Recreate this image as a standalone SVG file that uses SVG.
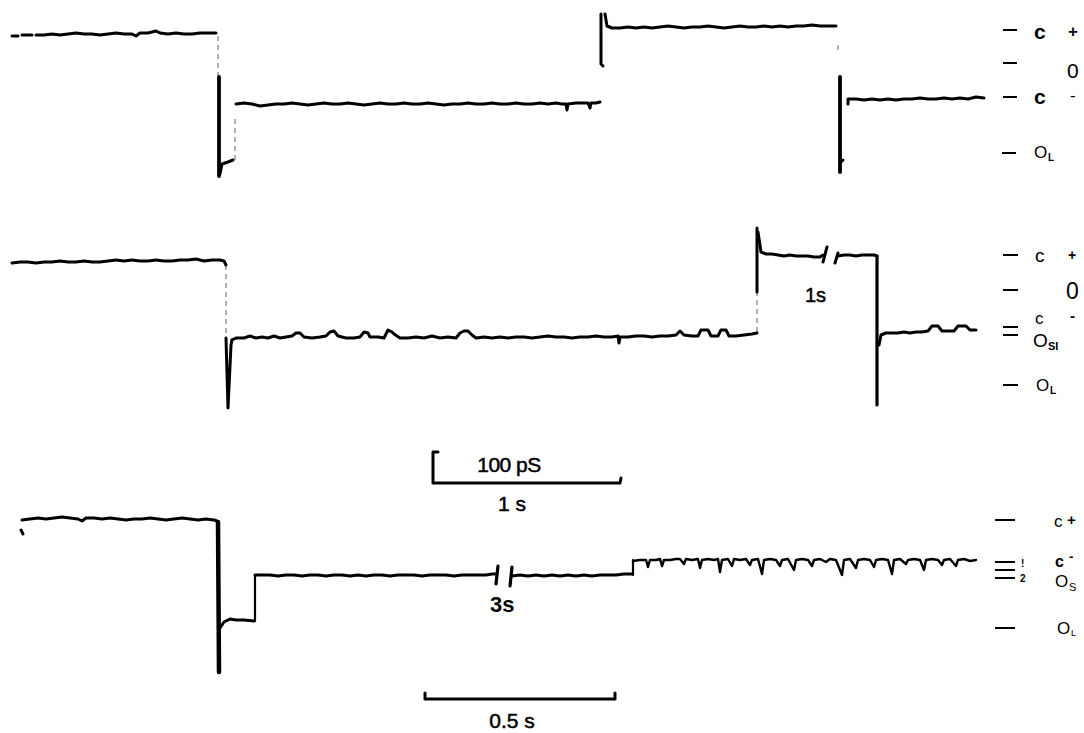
<svg xmlns="http://www.w3.org/2000/svg" width="1084" height="733" viewBox="0 0 1084 733">
<style>
.tr{fill:none;stroke:#000;stroke-width:3;stroke-linejoin:round;stroke-linecap:round}
.tk{fill:none;stroke:#000;stroke-width:3.8;stroke-linecap:round}
.fa{fill:none;stroke:#000;stroke-width:1;stroke-dasharray:5 4;stroke-opacity:0.6}
.dash{stroke:#000;stroke-width:2.2}
text{font-family:"Liberation Sans","DejaVu Sans",sans-serif;fill:#000}
.b{font-weight:bold}
.m{stroke:#000;stroke-width:0.5}
</style>
<rect width="1084" height="733" fill="#fff"/>

<g id="trace1">
<path class="tr" d="M12,36 L18,36 M22,35 L32,35 M36,35 L44,35 52,34 60,35 68,34 76,33 84,34 92,34 100,35 108,34 116,33 124,34 132,34 136,36 140,33 148,33 156,31 160,33 168,34 176,33 184,34 192,34 200,33 208,33 216,33"/>
<path class="fa" d="M218,36 L218,76"/>
<path class="tk" d="M219,77 L219,176"/>
<path class="tr" d="M220,174 L222,164 228,162 233,160"/>
<path class="fa" d="M235,160 L235,118"/>
<path class="tr" d="M236,104 L244,103 252,104 260,106 268,105 276,104 284,104 292,103 300,104 308,105 316,104 324,103 332,104 340,104 348,103 356,104 364,105 372,104 380,103 388,104 396,104 404,103 412,104 420,104 428,103 436,104 444,105 452,104 460,104 468,103 476,104 484,104 492,103 500,104 508,104 516,103 524,104 532,104 540,103 548,104 556,103 562,104 566,104 567,110 568,104 576,103 584,103 588,103 590,108 591,103 596,103 600,102"/>
<path class="tr" d="M603,66 L601,64 601,14"/>
<path class="tr" d="M605,14 L607,26 612,28 620,28 628,27 636,28 644,27 652,28 660,27 668,26 676,27 684,28 692,27 700,27 708,26 716,27 724,28 732,27 740,26 748,27 756,27 764,26 772,27 780,26 788,27 796,26 804,26 812,25 820,26 828,26 836,26"/>
<path class="fa" d="M838,45 L838,51"/>
<path class="tk" d="M840,77 L840,172"/>
<path class="tr" d="M840,163 L843,160"/>
<path class="tr" d="M848,104 L848,99 856,99 864,100 872,99 880,100 888,99 896,100 904,99 912,99 920,98 928,99 936,99 944,98 952,99 960,98 968,99 976,97 984,98"/>
</g>

<g id="trace2">
<path class="tr" d="M12,263 L20,262 28,262 36,263 44,262 52,262 60,261 68,262 76,262 84,261 92,262 100,262 108,261 116,260 124,261 132,260 140,261 148,261 156,260 164,261 172,261 180,260 188,260 196,259 204,261 212,260 220,260 224,261 226,265"/>
<path class="fa" d="M226,265 L226,336"/>
<path class="tr" d="M226,338 L228,408 231,345 232,340"/>
<path class="tr" d="M232,340 L236,338 244,338 250,336 256,338 262,337 268,338 274,336 280,338 286,337 292,336 296,333 300,333 304,337 312,338 320,337 326,336 330,332 334,331 338,336 346,338 354,338 360,337 364,332 368,333 370,337 378,337 384,338 388,330 392,332 394,334 400,338 408,338 416,337 424,338 432,336 440,338 448,337 456,338 460,333 464,331 468,331 472,335 476,338 484,337 492,338 500,337 508,338 516,337 524,337 532,338 540,337 548,336 556,337 564,337 572,338 580,337 588,337 596,336 604,337 612,337 618,336 619,343 620,337 628,337 636,336 644,336 652,337 660,336 668,336 676,335 680,331 684,335 692,336 698,336 701,330 708,330 711,336 718,336 721,330 726,330 729,336 736,336 744,335 752,334 757,333"/>
<path class="fa" d="M757,332 L757,292"/>
<path class="tr" d="M757,292 L757,228"/>
<path class="tr" d="M758,232 L761,252 766,254 772,254 778,255 784,256 790,255 796,256 802,256 808,256 814,257 820,257 823,255"/>
<path class="tr" d="M823,262 L827,247"/>
<path class="tr" d="M835,263 L838,253"/>
<path class="tr" d="M838,256 L844,255 850,255 856,256 862,255 868,255 874,255 877,256"/>
<path class="tk" style="stroke-width:3.2" d="M877,256 L877,405"/>
<path class="tr" d="M879,345 L881,335 886,333 892,333 898,333 904,332 910,333 916,332 922,332 928,331 932,326 938,326 942,331 948,331 954,331 958,326 966,326 970,330 976,330"/>
<text x="805" y="302" font-size="20" class="m">1s</text>
</g>

<g id="scalebar1">
<path class="tr" d="M438,452 L433,452 L433,483 L620,483 L621,478"/>
<text x="509" y="472" font-size="21" text-anchor="middle" letter-spacing="-0.5" class="m">100 pS</text>
<text x="512" y="511" font-size="21" text-anchor="middle" class="m">1 s</text>
</g>

<g id="trace3">
<path class="tr" d="M22,520 L30,519 38,518 46,519 54,518 62,517 70,518 78,519 82,521 86,518 94,518 102,519 110,518 118,519 126,520 134,519 142,519 150,518 158,519 166,520 174,519 182,518 190,519 198,520 206,519 214,520 217,521"/>
<path class="tr" d="M21,530 L23,534"/>
<path class="tk" style="stroke-width:4.5" d="M218,522 L219,672"/>
<path class="tr" d="M220,628 L224,622 230,619 236,620 244,620 254,621"/>
<path class="tr" style="stroke-width:2.2" d="M255,621 L255,575"/>
<path class="tr" d="M255,575 L262,575 270,575 278,576 286,575 294,575 302,576 310,575 318,575 326,576 334,575 342,575 350,576 358,575 366,576 374,575 382,575 390,576 398,575 406,575 414,575 422,576 430,575 438,575 446,575 454,576 462,575 470,575 478,575 486,575 492,574 496,574"/>
<path class="tk" style="stroke-width:3.2" d="M496,584 L498,566"/>
<path class="tk" style="stroke-width:3.2" d="M510,586 L512,567"/>
<path class="tr" d="M512,576 L520,575 528,576 536,575 544,576 552,575 560,576 568,575 576,576 584,575 592,576 600,575 608,575 616,575 624,574 632,574"/>
<path class="tr" style="stroke-width:2.2" d="M633,575 L633,560"/>
<path class="tr" style="stroke-width:2.4" d="M633,561 L640,560 646,560 648,567 650,560 656,560 660,559 662,566 664,560 670,560 676,559 680,559 684,564 686,559 692,560 698,559 700,568 702,560 708,559 714,560 718,559 720,572 722,560 728,559 732,566 734,559 740,560 746,559 750,565 752,560 758,559 762,574 764,560 770,559 776,560 780,566 782,560 788,559 794,570 796,560 802,559 808,560 812,566 814,560 820,559 826,562 830,559 836,560 842,575 844,560 850,559 856,568 858,560 864,559 870,560 874,567 876,560 882,559 888,560 892,574 894,560 900,559 906,564 908,560 914,559 920,560 924,570 926,560 932,559 938,560 942,565 944,560 950,559 956,566 958,560 964,559 970,561 976,560"/>
<text x="490" y="612" font-size="22" class="b">3s</text>
</g>

<g id="scalebar2">
<path class="tr" d="M425,693 L425,699 L615,699 L615,693"/>
<text x="512" y="728" font-size="21" text-anchor="middle" class="m">0.5 s</text>
</g>

<g id="labels">
<path class="dash" d="M1003,30 H1017 M1003,63 H1017 M1003,97 H1017 M1002,153 H1016"/>
<text x="1034" y="39" font-size="21" class="b">c</text>
<text x="1068" y="37" font-size="17" class="b">+</text>
<text x="1067" y="78" font-size="21">0</text>
<text x="1034" y="104" font-size="21" class="b">c</text>
<text x="1070" y="101" font-size="17">-</text>
<text x="1034" y="158" font-size="17">O</text>
<text x="1048" y="161" font-size="10" class="b">L</text>

<path class="dash" d="M1003,255 H1018 M1003,290 H1018 M1003,327 H1018 M1003,335 H1018 M1003,385 H1018"/>
<text x="1035" y="262" font-size="19">c</text>
<text x="1068" y="260" font-size="14" class="b">+</text>
<text x="1066" y="299" font-size="23">0</text>
<text x="1035" y="324" font-size="17">c</text>
<text x="1070" y="321" font-size="15" class="b">-</text>
<text x="1033" y="347" font-size="19">O</text>
<text x="1048" y="350" font-size="11" class="b">SI</text>
<text x="1036" y="391" font-size="17">O</text>
<text x="1050" y="394" font-size="10" class="b">L</text>

<path class="dash" d="M995,520 H1015 M995,562 H1015 M995,570 H1015 M995,578 H1015 M995,628 H1015"/>
<text x="1021" y="567" font-size="10" class="b">!</text>
<text x="1020" y="582" font-size="10" class="b">2</text>
<text x="1054" y="527" font-size="17">c</text>
<text x="1067" y="525" font-size="15" class="b">+</text>
<text x="1055" y="567" font-size="16" class="b">c</text>
<text x="1069" y="561" font-size="13" class="b">-</text>
<text x="1055" y="587" font-size="17">O</text>
<text x="1069" y="591" font-size="11">S</text>
<text x="1057" y="634" font-size="17">O</text>
<text x="1071" y="636" font-size="9">L</text>
</g>
</svg>
